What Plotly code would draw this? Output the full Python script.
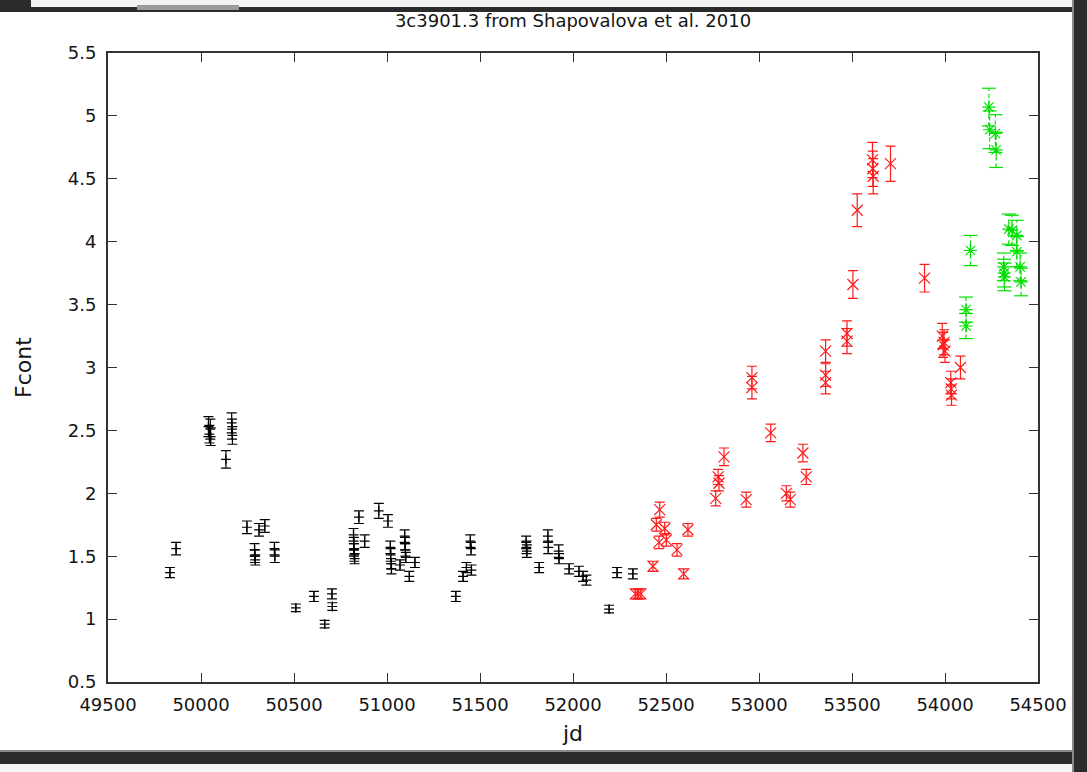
import plotly.graph_objects as go

# Continuum flux light curve of 3C 390.3 (Shapovalova et al. 2010)
jd_black = [49833, 49866, 50040, 50045, 50050, 50052, 50134, 50165, 50167, 50169,
            50247, 50288, 50290, 50292, 50312, 50343, 50395, 50397, 50510, 50607,
            50665, 50704, 50706, 50820, 50822, 50822, 50824, 50826, 50849, 50880,
            50956, 51005, 51018, 51020, 51022, 51024, 51070, 51095, 51097, 51099,
            51101, 51120, 51150, 51370, 51409, 51427, 51454, 51448, 51452, 51748,
            51750, 51752, 51818, 51865, 51867, 51923, 51925, 51979, 52032, 52054,
            52072, 52194, 52237, 52322]
f_black = [1.37, 1.56, 2.53, 2.47, 2.51, 2.45, 2.27, 2.56, 2.51, 2.46,
           1.73, 1.55, 1.50, 1.47, 1.71, 1.74, 1.56, 1.50, 1.09, 1.18,
           0.96, 1.20, 1.10, 1.67, 1.60, 1.55, 1.51, 1.48, 1.81, 1.62,
           1.86, 1.78, 1.57, 1.51, 1.44, 1.40, 1.43, 1.66, 1.60, 1.55,
           1.49, 1.34, 1.45, 1.18, 1.34, 1.41, 1.39, 1.62, 1.56, 1.61,
           1.57, 1.54, 1.41, 1.66, 1.57, 1.54, 1.48, 1.40, 1.38, 1.34,
           1.31, 1.08, 1.37, 1.36]
err_black = [0.04, 0.05, 0.08, 0.07, 0.08, 0.07, 0.07, 0.08, 0.08, 0.07,
             0.05, 0.05, 0.05, 0.04, 0.05, 0.05, 0.05, 0.05, 0.03, 0.04,
             0.03, 0.04, 0.03, 0.05, 0.05, 0.05, 0.05, 0.04, 0.05, 0.05,
             0.06, 0.05, 0.05, 0.05, 0.04, 0.04, 0.04, 0.05, 0.05, 0.05,
             0.04, 0.04, 0.04, 0.04, 0.04, 0.04, 0.04, 0.05, 0.05, 0.05,
             0.05, 0.05, 0.04, 0.05, 0.05, 0.05, 0.04, 0.04, 0.04, 0.04,
             0.04, 0.03, 0.04, 0.04]

jd_red = [52335, 52350, 52365, 52430, 52448, 52466, 52462, 52493, 52502, 52559,
          52595, 52618, 52767, 52780, 52785, 52812, 52931, 52962, 52962, 53063,
          53147, 53168, 53236, 53254, 53358, 53358, 53358, 53473, 53473, 53505,
          53528, 53610, 53612, 53614, 53707, 53890, 53985, 53990, 53995, 54000,
          54031, 54033, 54035, 54083]
f_red = [1.20, 1.20, 1.20, 1.42, 1.75, 1.87, 1.61, 1.72, 1.63, 1.55,
         1.36, 1.71, 1.96, 2.13, 2.08, 2.29, 1.95, 2.92, 2.84, 2.48,
         2.00, 1.95, 2.32, 2.13, 3.13, 2.94, 2.88, 3.27, 3.21, 3.66,
         4.25, 4.65, 4.58, 4.52, 4.62, 3.71, 3.25, 3.18, 3.20, 3.13,
         2.88, 2.83, 2.78, 3.00]
err_red = [0.04, 0.04, 0.04, 0.04, 0.05, 0.06, 0.05, 0.05, 0.05, 0.05,
           0.04, 0.05, 0.06, 0.06, 0.06, 0.07, 0.06, 0.09, 0.09, 0.07,
           0.06, 0.06, 0.07, 0.06, 0.09, 0.09, 0.09, 0.10, 0.10, 0.11,
           0.13, 0.14, 0.14, 0.14, 0.14, 0.11, 0.10, 0.10, 0.10, 0.09,
           0.09, 0.08, 0.08, 0.09]

jd_green = [54113, 54113, 54137, 54236, 54240, 54271, 54275, 54316, 54318, 54320,
            54343, 54360, 54386, 54386, 54404, 54409]
f_green = [3.46, 3.33, 3.93, 5.07, 4.89, 4.86, 4.73, 3.80, 3.75, 3.72,
           4.10, 4.09, 4.05, 3.92, 3.80, 3.68]
err_green = [0.10, 0.10, 0.12, 0.15, 0.15, 0.15, 0.14, 0.11, 0.11, 0.11,
             0.12, 0.12, 0.12, 0.12, 0.11, 0.11]

x_ticks = [49500, 50000, 50500, 51000, 51500, 52000, 52500, 53000, 53500, 54000, 54500]
y_ticks = [0.5, 1, 1.5, 2, 2.5, 3, 3.5, 4, 4.5, 5, 5.5]

W, H = 1087, 772
ML, MR, MT, MB = 108, 49, 53, 90
FONT = "DejaVu Sans, Verdana, sans-serif"
TEXT = "#141414"
RED, GREEN, BLACK = "#ff1a1a", "#00e000", "#000000"


def series(x, y, err, color, symbol, size):
    return go.Scatter(
        x=x, y=y, mode="markers", showlegend=False,
        marker=dict(symbol=symbol, size=size, color=color,
                    line=dict(color=color, width=1.2)),
        error_y=dict(type="data", array=err, visible=True,
                     color=color, thickness=1.2, width=5),
    )


fig = go.Figure()
fig.add_trace(series(jd_black, f_black, err_black, BLACK, "cross-thin-open", 7))
fig.add_trace(series(jd_red, f_red, err_red, RED, "x-thin-open", 11))

# third season: dashed error bars with end caps, then the asterisk markers
bar_x, bar_y, cap_x, cap_y = [], [], [], []
for x, y, e in zip(jd_green, f_green, err_green):
    bar_x += [x, x, None]
    bar_y += [y - e, y + e, None]
    cap_x += [x, x]
    cap_y += [y - e, y + e]
fig.add_trace(go.Scatter(x=bar_x, y=bar_y, mode="lines", showlegend=False,
                         line=dict(color=GREEN, width=1.2, dash="4px,3px")))
fig.add_trace(go.Scatter(x=cap_x, y=cap_y, mode="markers", showlegend=False,
                         marker=dict(symbol="line-ew-open", size=10, color=GREEN,
                                     line=dict(color=GREEN, width=1.2))))
fig.add_trace(go.Scatter(x=jd_green, y=f_green, mode="markers", showlegend=False,
                         marker=dict(symbol="asterisk-open", size=11, color=GREEN,
                                     line=dict(color=GREEN, width=1.2))))


# window chrome around the plot, given in pixels and mapped to paper units
def px_rect(x0, y0, x1, y1, color):
    pw, ph = W - ML - MR, H - MT - MB
    return dict(type="rect", xref="paper", yref="paper", layer="above",
                x0=(x0 - ML) / pw, x1=(x1 - ML) / pw,
                y0=(H - MB - y1) / ph, y1=(H - MB - y0) / ph,
                fillcolor=color, line=dict(width=0))


shapes = [
    px_rect(0, 0, W, 7, "#f2f2f2"),
    px_rect(0, 0, 31, 7, "#2b2b2b"),
    px_rect(0, 7, W, 12, "#2b2b2b"),
    px_rect(137, 5, 239, 10, "#9a9a9a"),
    px_rect(1072, 0, 1074, H, "#8a8a8a"),
    px_rect(1074, 0, W, H, "#2b2b2b"),
    px_rect(0, 750, 1072, 752, "#8a8a8a"),
    px_rect(0, 752, 1072, 764, "#2b2b2b"),
    px_rect(0, 764, 1072, H, "#f4f4f4"),
]

axis_common = dict(
    showgrid=False, zeroline=False, showline=True, linecolor="#333333",
    linewidth=2, mirror="allticks", ticks="inside", ticklen=9,
    tickwidth=1.2, tickcolor="#333333",
    tickfont=dict(family=FONT, size=18, color=TEXT),
)

fig.update_layout(
    width=W, height=H,
    margin=dict(l=ML, r=MR, t=MT, b=MB),
    paper_bgcolor="white", plot_bgcolor="white",
    font=dict(family=FONT, size=18, color=TEXT),
    title=dict(text="3c3901.3 from Shapovalova et al. 2010", x=(ML + (W - ML - MR) / 2) / W,
               xanchor="center", y=1 - 21 / H, yanchor="middle", yref="container",
               font=dict(family=FONT, size=18, color=TEXT)),
    xaxis=dict(range=[49500, 54500], tickvals=x_ticks, tickformat="d",
               ticklabelstandoff=5,
               title=dict(text="jd", standoff=12), **axis_common),
    yaxis=dict(range=[0.5, 5.5], tickvals=y_ticks, ticklabelstandoff=6,
               title=dict(text="Fcont", standoff=30), **axis_common),
    shapes=shapes,
)

fig.write_html("out.html")
